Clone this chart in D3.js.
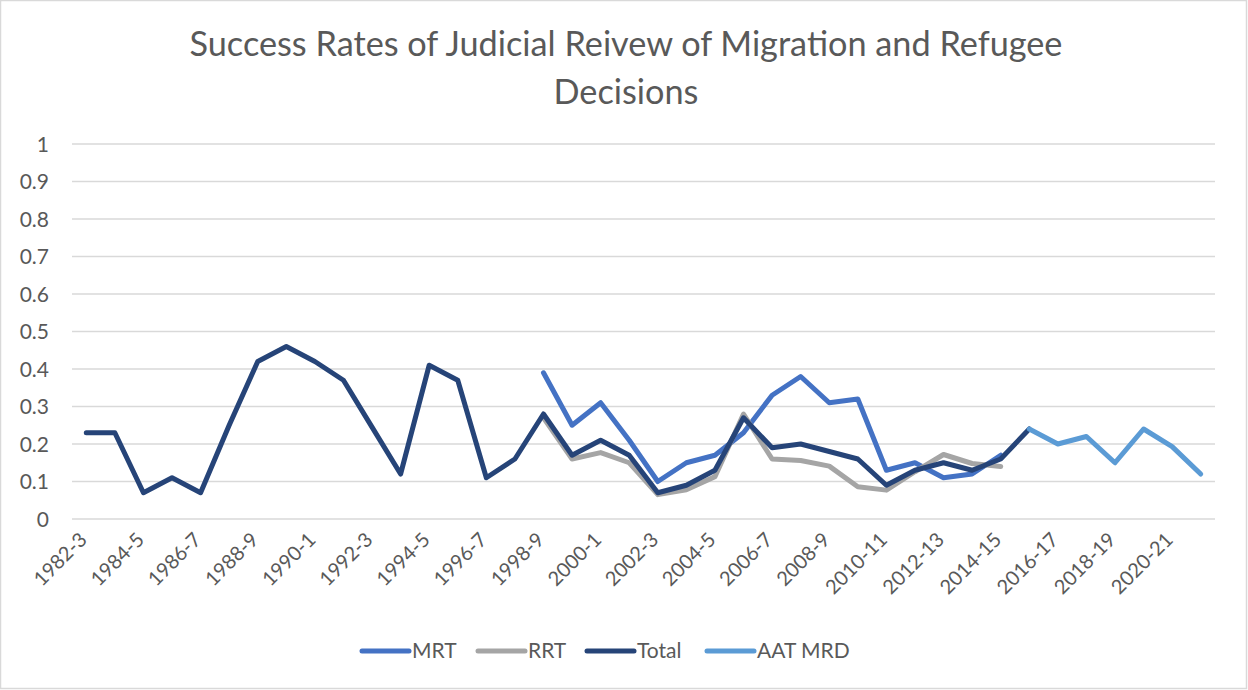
<!DOCTYPE html>
<html><head><meta charset="utf-8">
<script src="https://cdn.jsdelivr.net/npm/d3@7/dist/d3.min.js"></script>
<style>html,body{margin:0;padding:0;background:#fff;} svg{display:block;}</style>
</head><body>
<svg id="chart" width="1248" height="690"></svg>
<script>
const categories = ["1982-3","1983-4","1984-5","1985-6","1986-7","1987-8","1988-9","1989-90","1990-1","1991-2","1992-3","1993-4","1994-5","1995-6","1996-7","1997-8","1998-9","1999-00","2000-1","2001-2","2002-3","2003-4","2004-5","2005-6","2006-7","2007-8","2008-9","2009-10","2010-11","2011-12","2012-13","2013-14","2014-15","2015-16","2016-17","2017-18","2018-19","2019-20","2020-21","2021-22"];
const N = null;
const mrt = [N,N,N,N,N,N,N,N,N,N,N,N,N,N,N,N,0.39,0.25,0.31,0.21,0.10,0.15,0.17,0.23,0.33,0.38,0.31,0.32,0.13,0.15,0.11,0.12,0.17,N,N,N,N,N,N,N];
const rrt = [N,N,N,N,N,N,N,N,N,N,N,N,N,N,N,N,0.27,0.16,0.177,0.15,0.065,0.078,0.113,0.28,0.16,0.156,0.141,0.086,0.077,0.126,0.172,0.148,0.14,N,N,N,N,N,N,N];
const total = [0.23,0.23,0.07,0.11,0.07,0.25,0.42,0.46,0.42,0.37,0.245,0.12,0.41,0.37,0.11,0.16,0.28,0.17,0.21,0.17,0.07,0.09,0.13,0.27,0.19,0.20,0.18,0.16,0.09,0.13,0.15,0.13,0.16,0.24,N,N,N,N,N,N];
const aatMrd = [N,N,N,N,N,N,N,N,N,N,N,N,N,N,N,N,N,N,N,N,N,N,N,N,N,N,N,N,N,N,N,N,N,0.24,0.20,0.22,0.15,0.24,0.193,0.12];
const yTicks = [0,0.1,0.2,0.3,0.4,0.5,0.6,0.7,0.8,0.9,1];
const seriesNames = ["MRT","RRT","Total","AAT MRD"];
const seriesColors = ["#4472C4","#A5A5A5","#264478","#5B9BD5"];
const seriesData = [mrt, rrt, total, aatMrd];

const svg = d3.select("#chart");
const FONT = "Lato, 'Open Sans', sans-serif";
const TXT = "#595959";

// border
svg.append("rect").attr("x",0.5).attr("y",0.5).attr("width",1246).attr("height",688)
  .attr("fill","#fff").attr("stroke","#D9D9D9").attr("stroke-width",1.5);

const x = d3.scaleBand().domain(categories).range([72,1215]).padding(0);
const cx = c => x(c) + x.bandwidth()/2;
const y = d3.scaleLinear().domain([0,1]).range([519,144]);

// gridlines
svg.append("g").selectAll("line").data(yTicks).join("line")
  .attr("x1",72).attr("x2",1215)
  .attr("y1",d=>y(d)).attr("y2",d=>y(d))
  .attr("stroke","#D9D9D9").attr("stroke-width",1.5);

// y axis labels
const yAxis = d3.axisLeft(y).tickValues(yTicks).tickFormat(d=>d3.format("")(+d.toFixed(1))).tickSize(0).tickPadding(0);
const gy = svg.append("g").attr("transform","translate(49,0)").call(yAxis);
gy.select(".domain").remove();
gy.selectAll("text").attr("font-family",FONT).attr("font-size",21).attr("fill",TXT).attr("dy","0.35em");

// x axis labels
const xAxis = d3.axisBottom(x).tickValues(categories.filter((c,i)=>i%2===0)).tickSize(0).tickPadding(0);
const gx = svg.append("g").call(xAxis);
gx.select(".domain").remove();
gx.selectAll(".tick").attr("transform", d => `translate(${cx(d)-3},536)`);
gx.selectAll("text").attr("font-family",FONT).attr("font-size",20).attr("fill",TXT)
  .attr("text-anchor","end").attr("x",0).attr("y",0).attr("dy","0.35em")
  .attr("transform","rotate(-45)");

// lines
const line = d3.line().defined(d=>d.v!=null).x(d=>cx(d.c)).y(d=>y(d.v));
seriesData.forEach((arr,k)=>{
  const pts = categories.map((c,i)=>({c, v:arr[i]}));
  svg.append("path").attr("d",line(pts)).attr("fill","none")
    .attr("stroke",seriesColors[k]).attr("stroke-width",5)
    .attr("stroke-linejoin","round").attr("stroke-linecap","round");
});

// title
const title = svg.append("text").attr("font-family",FONT).attr("fill",TXT).attr("text-anchor","middle");
const t1 = title.append("tspan").attr("x",626).attr("y",56).text("Success Rates of Judicial Reivew of Migration and Refugee");
const t2 = title.append("tspan").attr("x",626).attr("y",104).text("Decisions");
title.attr("font-size",30);
const w = t1.node().getComputedTextLength();
title.attr("font-size", 30*873/w);

// legend
const legendX = [360,476,585,705];
const lg = svg.append("g");
seriesNames.forEach((n,k)=>{
  lg.append("line").attr("x1",legendX[k]+2).attr("x2",legendX[k]+49).attr("y1",651).attr("y2",651)
    .attr("stroke",seriesColors[k]).attr("stroke-width",5).attr("stroke-linecap","round");
  lg.append("text").attr("x",legendX[k]+52).attr("y",651).attr("dy","0.35em")
    .attr("font-family",FONT).attr("font-size",21).attr("fill",TXT).text(n);
});
</script>
</body></html>
